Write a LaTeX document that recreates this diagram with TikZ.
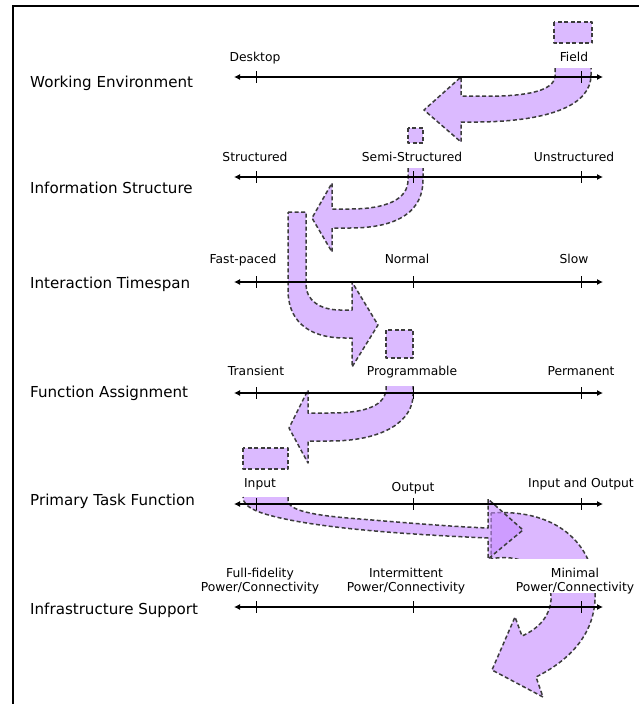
\documentclass[tikz,border=0pt]{standalone}
\usepackage{fontspec}
\setmainfont{DejaVu Sans}
\usetikzlibrary{arrows.meta}
\definecolor{lav}{RGB}{219,186,255}
\definecolor{lavt}{RGB}{197,138,255}
\definecolor{edgec}{RGB}{60,60,60}
\tikzset{
  axisline/.style={line width=1.1pt, {Latex[length=6pt,width=6pt]}-{Latex[length=6pt,width=6pt]}},
  tickline/.style={line width=1pt},
  bandfill/.style={fill=lav},
  bandfillt/.style={fill=lavt, fill opacity=0.6},
  bandedge/.style={draw=edgec, line width=1.5pt, dash pattern=on 4pt off 2.5pt, line join=round},
  lbl/.style={font=\fontsize{12.3}{14}\selectfont, inner sep=0pt, anchor=base, text=black},
  lbltwo/.style={font=\fontsize{12.3}{14}\selectfont, inner sep=0pt, align=center, text=black},
  rowlbl/.style={font=\fontsize{15.1}{18}\selectfont, inner sep=0pt, anchor=base west, text=black},
}
\newcommand\ArrowSixPath{(491,513) .. controls (560,508) and (598,548) .. (595,600) .. controls (593,635) and (570,660) .. (536,677) -- (543,697) -- (492,670) -- (515,617) -- (522,636) .. controls (540,628) and (550,615) .. (551,600) .. controls (552,565) and (515,553) .. (491,559) -- cycle}
\begin{document}
\begin{tikzpicture}[x=1pt,y=-1pt]
\useasboundingbox (0,0) rectangle (639,704);
\fill[white] (0,0) rectangle (639,704);
% frame
\draw[line width=2.4pt] (13,704) -- (13,6) -- (639,6);

% ---- tail boxes ----
\path[bandfill,bandedge] (554,22) rectangle (592,43);
\path[bandfill,bandedge] (408,128) rectangle (423,143);
\path[bandfill,bandedge] (386,330) rectangle (413,358);
\path[bandfill,bandedge] (243,448) rectangle (288,469);

% ---- arrow 1 ----
\fill[bandfill] (555,68) -- (555,77) .. controls (553,90) and (530,95) .. (500,96) -- (461,96) -- (461,77) -- (424,110) -- (461,142) -- (461,122) -- (480,122) .. controls (550,121) and (591,105) .. (591,75) -- (591,68) -- cycle;
\draw[bandedge] (555,68) -- (555,77) .. controls (553,90) and (530,95) .. (500,96) -- (461,96) -- (461,77) -- (424,110) -- (461,142) -- (461,122) -- (480,122) .. controls (550,121) and (591,105) .. (591,75) -- (591,68);

% ---- arrow 2 ----
\fill[bandfill] (408,168) -- (408,180) .. controls (408,200) and (385,209) .. (350,209) -- (332,209) -- (332,183) -- (312,218) -- (332,252) -- (332,228) -- (350,228) .. controls (400,228) and (423,210) .. (423,180) -- (423,168) -- cycle;
\draw[bandedge] (408,168) -- (408,180) .. controls (408,200) and (385,209) .. (350,209) -- (332,209) -- (332,183) -- (312,218) -- (332,252) -- (332,228) -- (350,228) .. controls (400,228) and (423,210) .. (423,180) -- (423,168);

% ---- arrow 3 ----
\path[bandfill,bandedge] (288,212) -- (306,212) -- (306,285) .. controls (306,300) and (320,310) .. (340,310) -- (352,310) -- (352,282) -- (378,325) -- (352,367) -- (352,338) -- (345,338) .. controls (305,338) and (288,318) .. (288,290) -- cycle;

% ---- arrow 4 ----
\fill[bandfill] (386,386) -- (386,390) .. controls (384,408) and (360,413) .. (330,413) -- (308,413) -- (308,390) -- (289,428) -- (308,463) -- (308,441) -- (330,441) .. controls (385,441) and (413,420) .. (413,395) -- (413,386) -- cycle;
\draw[bandedge] (386,386) -- (386,390) .. controls (384,408) and (360,413) .. (330,413) -- (308,413) -- (308,390) -- (289,428) -- (308,463) -- (308,441) -- (330,441) .. controls (385,441) and (413,420) .. (413,395) -- (413,386);

% ---- arrow 6 (split by the label band) ----
\begin{scope}
  \clip (0,0) rectangle (639,558);
  \path[bandfillt,bandedge] \ArrowSixPath;
\end{scope}
\begin{scope}
  \clip (0,593) rectangle (639,704);
  \path[bandfillt,bandedge] \ArrowSixPath;
\end{scope}

% ---- arrow 5 ----
\fill[bandfillt] (288,497) -- (288,502) .. controls (292,512) and (320,516) .. (360,519) .. controls (420,524) and (460,527) .. (488,528) -- (488,499) -- (523,530) -- (488,559) -- (488,538) .. controls (420,535) and (340,530) .. (290,520) .. controls (260,514) and (243,508) .. (243,497) -- cycle;
\draw[bandedge] (288,497) -- (288,502) .. controls (292,512) and (320,516) .. (360,519) .. controls (420,524) and (460,527) .. (488,528) -- (488,499) -- (523,530) -- (488,559) -- (488,538) .. controls (420,535) and (340,530) .. (290,520) .. controls (260,514) and (243,508) .. (243,497);

% ---- axes ----
\foreach \yy/\nm in {77/a, 177/b, 282/c, 393/d, 504/e, 607/f}{
  \coordinate (\nm l) at (234,\yy);
  \coordinate (\nm r) at (603,\yy);
  \draw[axisline] (\nm l) -- (\nm r);
}
\foreach \yy in {77, 607}{
  \draw[tickline] (256,\yy-6) -- (256,\yy+6);
  \draw[tickline] (581,\yy-6) -- (581,\yy+6);
}
\foreach \yy in {177, 282, 393, 504, 607}{
  \draw[tickline] (413,\yy-6) -- (413,\yy+6);
}
\foreach \yy in {177, 282, 393, 504}{
  \draw[tickline] (256,\yy-6) -- (256,\yy+6);
  \draw[tickline] (581,\yy-6) -- (581,\yy+6);
}

% ---- row labels ----
\node[rowlbl] (r1) at (30,87.5) {Working Environment};
\node[rowlbl] (r2) at (30,193) {Information Structure};
\node[rowlbl] (r3) at (30,288.5) {Interaction Timespan};
\node[rowlbl] (r4) at (30,397.5) {Function Assignment};
\node[rowlbl] (r5) at (30,505.5) {Primary Task Function};
\node[rowlbl] (r6) at (30,614.5) {Infrastructure Support};

% ---- axis labels ----
\node[lbl] (l11) at (255,61.5) {Desktop};
\node[lbl] (l13) at (574,61.5) {Field};
\node[lbl] (l21) at (255,161.5) {Structured};
\node[lbl] (l22) at (412,161.5) {Semi-Structured};
\node[lbl] (l23) at (574,161.5) {Unstructured};
\node[lbl] (l31) at (243,263.5) {Fast-paced};
\node[lbl] (l32) at (407,263.5) {Normal};
\node[lbl] (l33) at (574,263.5) {Slow};
\node[lbl] (l41) at (256,375.5) {Transient};
\node[lbl] (l42) at (412,375.5) {Programmable};
\node[lbl] (l43) at (581,375.5) {Permanent};
\node[lbl] (l51) at (260,487.5) {Input};
\node[lbl] (l52) at (413,491.5) {Output};
\node[lbl] (l53) at (581,487.5) {Input and Output};
\node[lbltwo] (l61) at (260,581) {Full-fidelity\\Power/Connectivity};
\node[lbltwo] (l62) at (406,581) {Intermittent\\Power/Connectivity};
\node[lbltwo] (l63) at (575,581) {Minimal\\Power/Connectivity};
\end{tikzpicture}
\end{document}
